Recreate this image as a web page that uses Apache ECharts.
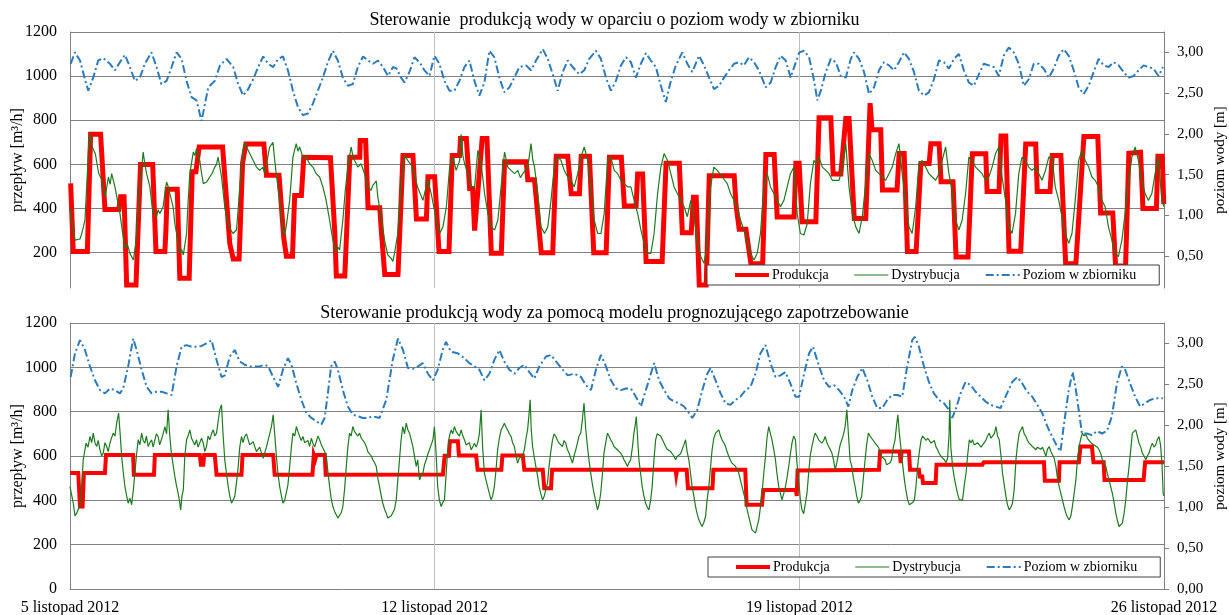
<!DOCTYPE html>
<html>
<head>
<meta charset="utf-8">
<script src="https://cdn.jsdelivr.net/npm/echarts@6/dist/echarts.min.js"></script>
<style>
html,body{margin:0;padding:0;background:#fff}
#chart{width:1229px;height:615px}
</style>
</head>
<body>
<div id="chart"></div>
<script>
// Time axis: hours since 5 Nov 2012 00:00, labelled once a week
const dateLabels = ['5 listopad 2012', '12 listopad 2012', '19 listopad 2012', '26 listopad 2012'];
const seriesNames = ['Produkcja', 'Dystrybucja', 'Poziom w zbiorniku'];
const panelTitles = [
  'Sterowanie  produkcją wody w oparciu o poziom wody w zbiorniku',
  'Sterowanie produkcją wody za pomocą modelu prognozującego zapotrzebowanie'
];

// Upper panel: production driven by the tank level  [hour, m3/h]
const topProd = [[0.3,514],[1.5,205],[8.0,205],[9.5,737],[14.1,737],[16.1,396],[22.5,396],[23.3,453],[24.9,453],[26.1,54],[30.4,54],[32.5,600],[38.1,600],[39.6,205],[43.7,205],[44.2,303],[44.8,488],[49.4,488],[50.6,84],[54.9,84],[56.3,567],[58.0,567],[59.5,679],[70.3,679],[73.6,242],[75.2,171],[77.9,171],[79.5,605],[81.0,692],[89.3,692],[90.5,551],[96.3,551],[98.5,264],[99.7,184],[102.5,184],[103.5,459],[106.6,459],[107.7,632],[120.0,630],[122.0,290],[122.7,94],[126.6,94],[128.9,632],[133.5,632],[133.7,708],[136.2,708],[137.3,404],[142.7,404],[143.4,303],[145.0,101],[151.1,101],[153.4,640],[158.0,640],[159.6,353],[164.2,353],[164.9,544],[168.0,544],[170.0,205],[174.6,205],[176.1,640],[179.5,640],[179.9,717],[182.6,717],[184.1,491],[185.5,491],[186.4,300],[189.9,717],[192.1,717],[194.1,197],[198.7,197],[200.2,612],[210.2,612],[210.9,530],[214.0,530],[217.1,200],[222.4,200],[224.0,637],[229.3,637],[230.9,467],[234.7,467],[235.5,637],[239.3,637],[241.3,200],[247.0,200],[248.5,632],[254.0,632],[255.4,411],[260.8,411],[261.5,556],[263.8,556],[265.4,160],[272.8,160],[274.6,605],[280.7,605],[282.1,290],[286.2,290],[287.2,451],[288.5,451],[289.9,54],[293.1,54],[294.5,549],[306.0,549],[306.8,419],[308.3,306],[311.4,306],[313.7,150],[319.1,150],[320.6,645],[324.4,645],[325.8,362],[333.6,362],[334.4,605],[335.9,605],[337.3,340],[343.6,340],[345.1,811],[350.5,811],[351.6,556],[355.1,556],[357.4,808],[358.9,808],[361.3,355],[366.6,355],[368.6,878],[369.5,757],[373.5,757],[374.3,484],[381.0,484],[382.0,650],[384.3,650],[385.8,205],[389.8,205],[392.0,604],[395.8,604],[396.6,694],[400.4,694],[401.3,521],[406.8,521],[408.2,180],[413.7,180],[415.7,648],[421.9,648],[422.5,477],[428.0,477],[428.9,729],[431.1,729],[432.6,207],[438.0,207],[440.3,692],[444.9,692],[445.6,477],[451.5,477],[452.5,640],[456.5,640],[458.7,150],[463.4,150],[467.1,726],[473.5,726],[474.8,380],[480.4,380],[481.7,140],[486.3,140],[487.8,650],[493.2,655],[494.3,400],[500.5,400],[501.2,637],[503.2,637],[503.9,420]];

const topDist = [[0,400],[0.3,378],[1.5,300],[2.3,257],[3.1,250],[4.6,262],[5.5,290],[6.9,348],[8.0,560],[8.7,710],[9.3,737],[10.2,680],[11.7,647],[13.2,560],[14.7,529],[16.2,453],[17.7,543],[18.5,510],[19.2,558],[20.7,498],[21.8,440],[23.0,378],[24.1,300],[25.3,221],[26.4,240],[27.6,197],[28.4,200],[29.2,167],[30.0,220],[30.7,287],[32.2,498],[33.7,656],[34.5,600],[35.3,558],[36.8,498],[37.6,430],[38.3,378],[39.9,363],[40.6,395],[41.4,378],[42.9,408],[43.7,470],[44.5,520],[45.2,500],[46.0,468],[47.5,408],[48.3,330],[49.1,287],[50.6,197],[51.4,215],[52.2,190],[53.0,240],[53.7,287],[54.4,430],[55.2,558],[56.8,656],[57.5,640],[58.3,671],[59.8,618],[60.6,560],[61.4,513],[62.9,520],[64.4,543],[65.5,560],[66.7,588],[67.5,600],[68.2,633],[69.0,590],[69.8,543],[71.3,408],[72.4,350],[73.6,310],[75.1,287],[76.7,303],[77.5,400],[78.2,498],[79.8,664],[80.5,700],[81.3,679],[82.8,649],[84.4,618],[85.9,588],[87.4,573],[88.9,588],[89.7,560],[90.5,558],[92.0,679],[93.5,700],[94.3,620],[95.0,558],[96.6,437],[98.1,303],[98.9,280],[99.6,318],[101.2,437],[102.7,633],[104.2,694],[105.0,660],[105.8,679],[107.3,633],[108.8,633],[110.4,603],[111.9,588],[113.4,558],[115.0,543],[116.5,498],[118.0,437],[119.6,347],[121.1,257],[122.6,205],[123.4,225],[124.2,212],[125.7,347],[126.8,480],[128.0,588],[129.5,679],[130.3,640],[131.1,618],[132.6,588],[134.1,603],[135.7,558],[137.2,498],[138.7,483],[139.5,505],[140.3,498],[141.1,525],[141.8,453],[143.3,363],[144.9,257],[146.4,190],[147.9,175],[148.7,160],[149.5,197],[151.0,287],[152.5,498],[154.1,641],[155.6,618],[157.9,588],[160.1,498],[162.6,437],[164.1,500],[164.9,530],[166.4,468],[168.8,347],[170.3,287],[171.8,317],[173.4,408],[174.9,588],[176.4,633],[177.9,573],[179.5,618],[180.2,737],[181.0,640],[181.8,603],[183.3,558],[184.8,498],[186.4,498],[187.9,664],[189.4,603],[191.0,468],[192.5,378],[194.0,317],[195.6,303],[197.1,347],[198.6,498],[200.2,656],[201.7,588],[203.2,573],[204.8,558],[206.3,573],[207.5,540],[208.6,558],[210.9,588],[212.4,694],[213.2,620],[214.0,588],[215.5,468],[217.0,317],[218.6,287],[220.1,317],[221.6,437],[223.1,588],[224.7,633],[226.2,618],[227.7,573],[229.3,543],[230.8,528],[232.3,498],[233.9,558],[235.4,633],[236.9,679],[238.5,618],[240.0,498],[241.5,347],[243.1,287],[244.6,287],[246.1,378],[247.7,618],[249.2,633],[250.7,573],[252.3,558],[253.8,528],[255.3,513],[256.9,498],[258.4,498],[259.9,437],[261.5,378],[263.0,303],[264.5,242],[266.1,197],[267.6,197],[269.1,287],[270.7,468],[272.2,588],[273.7,649],[275.3,618],[276.8,558],[278.3,498],[279.8,468],[281.4,437],[282.9,408],[284.4,363],[286.0,437],[287.5,363],[289.0,257],[290.6,182],[292.1,152],[293.5,230],[294.4,400],[295.1,498],[296.6,588],[298.2,573],[300.5,543],[302.8,513],[304.3,468],[305.9,437],[307.4,408],[308.9,347],[310.5,303],[312.0,257],[313.5,197],[315.1,167],[316.6,197],[318.1,287],[319.7,498],[321.2,558],[322.7,498],[324.3,468],[325.8,437],[327.3,408],[328.9,437],[330.4,498],[331.9,558],[333.5,588],[335.0,378],[336.5,287],[338.1,280],[339.6,330],[341.1,513],[342.7,618],[344.0,600],[345.1,633],[346.6,588],[348.2,573],[349.7,558],[351.2,528],[352.8,528],[354.3,528],[355.8,588],[357.4,694],[358.9,498],[360.4,378],[362.0,317],[363.5,287],[365.0,363],[366.6,513],[368.1,649],[369.6,618],[371.2,573],[372.7,558],[374.2,543],[375.8,528],[377.3,558],[378.8,588],[380.4,649],[381.9,694],[383.4,558],[385.0,437],[386.5,317],[388.0,287],[389.6,408],[391.1,603],[392.6,618],[394.2,588],[395.7,558],[397.2,543],[398.8,528],[400.3,558],[401.8,618],[403.4,679],[404.9,558],[406.4,483],[408.0,347],[409.5,303],[411.0,347],[412.6,468],[414.1,633],[415.6,618],[417.2,588],[418.7,573],[420.2,558],[421.8,528],[423.3,543],[424.8,588],[426.4,649],[427.9,679],[429.4,543],[431.0,437],[432.5,317],[434.0,287],[435.6,378],[437.1,558],[438.6,633],[440.2,618],[441.7,588],[443.2,573],[444.7,588],[446.3,558],[447.8,528],[449.4,573],[450.9,633],[452.4,633],[453.9,498],[455.5,437],[457.0,363],[458.5,287],[460.1,242],[461.6,287],[463.1,437],[464.7,618],[466.2,664],[467.7,618],[469.3,588],[470.8,543],[472.3,528],[473.8,498],[475.4,437],[476.9,408],[478.4,317],[480.0,257],[481.5,197],[483.0,182],[484.6,257],[486.1,378],[487.6,513],[489.2,633],[490.7,679],[492.2,618],[493.8,528],[495.3,468],[496.8,437],[498.4,468],[499.9,558],[501.4,633],[503.0,437],[504.0,408]];

// tank level [hour, m]
const topLevel = [[0.3,2.86],[2.3,3.00],[4.6,2.90],[6.9,2.67],[8.4,2.53],[10.7,2.69],[13.0,2.90],[15.3,2.93],[18.4,2.86],[20.7,2.78],[23.0,2.88],[25.3,2.97],[27.6,2.82],[29.9,2.65],[32.2,2.69],[34.5,2.86],[37.5,3.00],[39.9,2.82],[42.1,2.61],[44.5,2.65],[46.8,2.82],[49.1,3.00],[51.4,2.92],[53.7,2.65],[56.0,2.45],[58.3,2.41],[60.6,2.16],[63.7,2.57],[66.7,2.65],[69.1,2.84],[72.1,2.92],[75.2,2.82],[77.5,2.61],[79.8,2.47],[82.1,2.55],[84.4,2.67],[86.7,2.82],[89.0,2.95],[91.3,2.86],[93.6,2.82],[95.9,2.92],[98.1,2.95],[100.4,2.78],[102.7,2.53],[105.0,2.33],[107.3,2.23],[109.6,2.25],[111.9,2.37],[114.2,2.53],[116.5,2.69],[118.8,2.88],[121.1,3.02],[123.4,2.90],[125.7,2.69],[128.0,2.59],[130.3,2.61],[132.6,2.82],[135.0,2.95],[137.3,2.90],[139.6,2.86],[141.9,2.90],[144.2,2.82],[146.5,2.71],[148.8,2.82],[150.5,2.80],[152.5,2.69],[154.1,2.63],[156.4,2.76],[158.7,2.94],[161.0,2.88],[163.3,2.78],[165.6,2.71],[167.9,2.96],[170.2,2.86],[172.5,2.65],[174.8,2.53],[177.1,2.53],[179.4,2.65],[181.7,2.82],[184.0,2.90],[186.3,2.65],[188.6,2.47],[190.9,2.63],[193.2,3.02],[195.5,2.94],[197.8,2.69],[200.1,2.51],[202.4,2.57],[204.7,2.69],[207.0,2.82],[210.1,2.84],[212.4,2.78],[214.7,2.90],[217.8,3.04],[220.1,2.92],[222.4,2.73],[224.7,2.53],[227.0,2.76],[229.3,2.90],[231.6,2.82],[234.6,2.73],[236.9,2.78],[239.2,2.92],[242.3,3.02],[244.6,2.92],[246.9,2.69],[249.2,2.53],[251.5,2.65],[253.8,2.84],[256.1,2.94],[258.4,2.88],[260.7,2.69],[263.0,2.86],[265.3,2.99],[267.6,2.90],[269.9,2.82],[272.2,2.59],[274.5,2.39],[276.8,2.65],[279.1,2.84],[282.1,3.00],[284.4,2.86],[286.7,2.76],[289.8,2.96],[292.1,2.84],[294.4,2.69],[296.7,2.55],[299.0,2.59],[301.3,2.69],[303.6,2.78],[305.9,2.86],[308.2,2.88],[310.5,2.84],[312.8,2.94],[315.1,2.88],[317.4,2.78],[320.5,2.57],[322.8,2.63],[325.1,2.82],[327.4,2.96],[329.7,2.90],[332.0,2.69],[334.0,2.85],[336.0,3.00],[338.2,3.02],[340.5,2.94],[342.8,2.65],[344.3,2.41],[345.9,2.53],[348.2,2.76],[350.5,2.92],[352.8,2.88],[355.1,2.71],[357.4,2.69],[359.7,2.92],[361.2,3.00],[363.5,2.92],[365.8,2.76],[368.1,2.49],[370.4,2.57],[372.7,2.78],[375.0,2.88],[377.3,2.84],[379.6,2.78],[381.9,2.88],[384.2,3.00],[386.5,2.92],[388.8,2.76],[391.1,2.53],[393.4,2.47],[395.7,2.51],[398.0,2.67],[400.3,2.90],[402.6,2.88],[404.9,2.80],[407.2,2.92],[409.5,2.98],[411.8,2.78],[414.1,2.63],[416.4,2.59],[418.7,2.73],[421.0,2.86],[423.3,2.84],[425.6,2.82],[427.9,2.71],[430.2,2.96],[432.5,3.06],[434.8,3.00],[437.1,2.86],[439.4,2.59],[441.7,2.67],[444.0,2.86],[446.3,2.86],[448.6,2.80],[450.9,2.69],[453.2,2.80],[455.5,2.96],[457.8,3.04],[460.1,2.96],[462.4,2.78],[464.7,2.57],[467.0,2.49],[469.3,2.59],[471.6,2.76],[473.9,2.92],[476.2,2.84],[478.5,2.82],[480.8,2.88],[483.1,2.84],[485.4,2.76],[487.7,2.69],[490.0,2.71],[492.3,2.78],[494.6,2.84],[496.9,2.82],[499.2,2.80],[501.5,2.71],[503.5,2.82]];

// Lower panel: production from the demand forecast model  [hour, m3/h]
const botProd = [[0,523],[3.8,523],[4.6,372],[5.8,372],[6.4,523],[16.1,523],[16.6,605],[29.1,605],[29.4,515],[38.7,515],[39.1,605],[59.8,605],[60.3,560],[61.4,560],[61.8,605],[66.7,605],[67.5,515],[79.0,515],[79.5,605],[93.6,605],[94.3,515],[111.7,515],[112.3,605],[113.0,585],[113.6,605],[117.4,605],[117.8,515],[171.8,517],[172.6,601],[174.6,601],[175.0,666],[178.7,666],[179.2,602],[187.1,602],[187.8,538],[198.7,538],[199.2,602],[208.6,602],[209.3,538],[217.8,538],[218.5,455],[221.6,455],[222.1,538],[279.0,538],[279.3,515],[279.7,538],[284.1,538],[284.7,455],[296.0,455],[296.4,538],[311.1,538],[311.7,380],[318.8,380],[319.4,447],[334.4,447],[334.8,420],[335.2,535],[372.7,538],[373.2,620],[382.3,620],[382.7,568],[383.1,620],[386.5,620],[387.0,538],[391.1,538],[391.5,508],[392.6,508],[393.0,478],[398.8,478],[399.2,560],[420.3,560],[421.0,572],[448.7,572],[449.1,488],[455.6,488],[455.9,572],[464.8,572],[465.5,643],[470.8,643],[471.5,572],[476.2,572],[476.6,492],[494.6,492],[495.3,572],[504,572]];

const botDist = [[0,462],[1.5,387],[2.3,330],[3.1,342],[3.8,360],[4.6,372],[5.4,470],[6.1,583],[7.4,658],[8.3,640],[9.2,688],[10.0,660],[10.7,703],[11.5,660],[12.3,643],[13.0,670],[13.8,628],[14.6,600],[15.3,613],[16.1,660],[16.9,643],[17.6,620],[18.4,658],[19.1,680],[19.9,703],[20.7,690],[21.5,748],[22.4,794],[23.1,700],[23.8,598],[24.5,530],[25.3,462],[26.1,420],[26.8,387],[27.6,410],[28.4,380],[29.1,440],[29.9,523],[30.6,600],[31.4,673],[32.2,650],[33.0,703],[33.7,670],[34.5,658],[35.2,690],[36.0,643],[36.8,660],[37.6,673],[38.3,640],[39.1,643],[39.8,700],[40.6,688],[41.3,650],[42.1,673],[42.9,700],[43.7,733],[44.5,700],[45.2,809],[45.9,700],[46.7,613],[47.5,560],[48.3,508],[49.0,470],[49.8,432],[50.4,400],[51.0,357],[51.6,420],[52.2,447],[52.9,600],[53.7,673],[54.4,690],[55.2,718],[56.0,680],[56.8,688],[57.5,650],[58.3,673],[59.0,640],[59.8,643],[60.6,680],[61.4,658],[62.1,620],[62.9,643],[63.6,690],[64.4,673],[65.2,700],[66.0,718],[66.7,690],[67.5,703],[68.3,760],[69.0,809],[69.8,831],[70.5,700],[71.3,583],[72.1,520],[72.9,462],[73.6,420],[74.4,387],[75.1,400],[75.9,417],[76.7,480],[77.5,553],[78.2,640],[79.0,688],[79.7,660],[80.5,688],[81.3,700],[82.1,673],[82.8,650],[83.6,643],[84.4,665],[85.1,643],[85.9,620],[86.7,628],[87.4,640],[88.2,613],[89.0,590],[89.7,598],[90.5,640],[91.3,673],[92.0,700],[92.8,733],[93.6,786],[94.3,700],[95.1,598],[95.8,520],[96.6,462],[97.4,420],[98.1,387],[98.9,400],[99.7,402],[100.4,470],[101.2,553],[102.0,640],[102.7,703],[103.5,690],[104.3,733],[105.0,710],[105.8,703],[106.5,670],[107.3,688],[108.1,660],[108.9,658],[109.6,670],[110.4,643],[111.2,680],[111.9,658],[112.7,640],[113.5,643],[114.2,690],[115.0,673],[115.8,650],[116.5,643],[117.3,620],[118.1,598],[118.8,530],[119.6,462],[120.3,410],[121.1,372],[121.9,350],[122.7,342],[123.4,320],[124.2,327],[125.0,345],[125.7,372],[126.5,450],[127.3,553],[128.0,640],[128.8,703],[129.5,690],[130.3,733],[131.1,710],[131.9,718],[132.6,690],[133.4,703],[134.2,680],[134.9,673],[135.7,660],[136.5,643],[137.2,620],[138.0,613],[138.8,600],[139.5,583],[140.3,570],[141.1,553],[141.8,500],[142.6,462],[143.4,420],[144.1,387],[144.9,360],[145.7,342],[146.4,320],[147.2,312],[148.0,330],[148.7,327],[149.5,360],[150.3,402],[151.0,490],[151.8,583],[152.5,670],[153.3,733],[154.1,700],[154.9,748],[155.6,720],[156.4,703],[157.2,673],[158.0,640],[158.7,643],[159.5,553],[160.2,583],[161.0,492],[161.8,510],[162.6,523],[163.3,560],[164.1,583],[164.9,610],[165.6,628],[166.4,650],[167.2,673],[167.9,733],[168.6,620],[169.4,462],[170.2,400],[171.0,372],[171.7,390],[172.5,402],[173.3,520],[174.0,628],[174.8,690],[175.6,718],[176.3,700],[177.1,733],[177.9,710],[178.6,703],[179.4,690],[180.2,718],[181.0,690],[181.7,673],[182.5,650],[183.2,643],[184.0,660],[184.8,628],[185.5,640],[186.3,658],[187.1,640],[187.8,658],[188.6,700],[189.4,809],[190.1,640],[190.9,523],[191.7,490],[192.4,462],[193.2,430],[194.0,402],[194.7,420],[195.5,462],[196.3,540],[197.0,628],[197.8,680],[198.6,718],[199.3,730],[200.1,748],[200.9,730],[201.6,718],[202.4,700],[203.2,688],[203.9,660],[204.7,643],[205.5,600],[206.2,568],[207.0,590],[207.8,583],[208.5,600],[209.3,628],[210.1,680],[210.8,718],[211.4,780],[212.0,854],[212.5,720],[213.1,643],[213.8,600],[214.6,553],[215.4,510],[216.1,462],[216.9,430],[217.7,402],[218.5,420],[219.2,417],[220.0,480],[220.7,553],[221.5,620],[222.3,673],[223.0,700],[223.8,688],[224.6,670],[225.3,658],[226.1,650],[226.9,643],[227.6,670],[228.4,658],[229.1,630],[229.9,613],[230.7,590],[231.5,568],[232.2,600],[233.0,628],[233.8,660],[234.5,690],[235.3,703],[236.0,760],[236.8,839],[237.6,720],[238.4,643],[239.1,580],[239.9,523],[240.7,470],[241.4,432],[242.2,395],[243.0,357],[243.7,380],[244.5,432],[245.3,520],[246.0,613],[246.8,660],[247.6,703],[248.3,690],[249.1,673],[249.9,660],[250.6,643],[251.4,640],[252.2,628],[252.9,620],[253.7,613],[254.5,600],[255.2,583],[256.0,570],[256.8,553],[257.5,570],[258.3,583],[259.1,640],[259.8,703],[260.4,740],[260.9,778],[261.5,680],[262.1,583],[262.9,520],[263.6,462],[264.4,420],[265.2,387],[265.9,370],[266.7,357],[267.5,400],[268.2,462],[269.0,580],[269.8,673],[270.5,700],[271.3,703],[272.1,690],[272.8,688],[273.6,660],[274.4,643],[275.1,630],[275.9,628],[276.7,620],[277.4,613],[278.2,600],[279.0,583],[279.7,598],[280.5,598],[281.3,610],[282.0,628],[282.8,650],[283.6,673],[284.3,620],[285.1,583],[285.9,520],[286.6,462],[287.4,420],[288.2,372],[288.9,340],[289.7,312],[290.5,295],[291.2,282],[292.0,300],[292.8,327],[293.5,400],[294.3,462],[295.1,550],[295.8,628],[296.6,680],[297.4,703],[298.1,710],[298.9,718],[299.7,690],[300.4,673],[301.2,660],[302.0,643],[302.7,620],[303.5,598],[304.3,580],[305.0,568],[305.8,560],[306.6,553],[307.3,540],[308.1,523],[308.9,490],[309.6,462],[310.4,430],[311.2,402],[311.9,360],[312.7,327],[313.5,295],[314.2,267],[315.0,258],[315.8,252],[316.5,280],[317.3,312],[318.1,370],[318.8,432],[319.6,520],[320.4,598],[321.1,680],[321.9,733],[322.7,700],[323.4,673],[324.2,630],[325.0,583],[325.7,520],[326.5,462],[327.3,430],[328.0,402],[328.8,430],[329.6,462],[330.3,500],[331.1,553],[331.9,610],[332.6,658],[333.4,690],[334.2,673],[334.9,570],[335.7,492],[336.5,400],[337.2,357],[338.0,340],[338.8,387],[339.5,430],[340.3,523],[341.0,600],[341.8,643],[342.6,680],[343.3,703],[344.1,690],[344.9,673],[345.6,680],[346.4,658],[347.2,670],[347.9,688],[348.7,660],[349.5,643],[350.2,630],[351.0,613],[351.8,580],[352.5,538],[353.3,570],[354.1,613],[354.8,650],[355.6,673],[356.4,700],[357.1,733],[357.9,809],[358.6,700],[359.4,580],[360.2,553],[360.9,500],[361.7,462],[362.4,420],[363.2,387],[364.0,400],[364.7,417],[365.5,500],[366.3,583],[367.0,650],[367.8,703],[368.6,690],[369.3,688],[370.1,670],[370.9,658],[371.6,650],[372.4,640],[373.2,620],[373.9,598],[374.7,590],[375.5,583],[376.2,560],[377.0,553],[377.8,570],[378.5,583],[379.3,640],[380.1,673],[380.8,740],[381.4,786],[382.1,700],[382.9,628],[383.6,560],[384.4,492],[385.2,440],[385.9,402],[386.7,380],[387.5,372],[388.2,390],[389.0,402],[389.8,470],[390.5,553],[391.3,620],[392.1,673],[392.8,690],[393.6,688],[394.4,670],[395.1,680],[395.9,670],[396.7,658],[397.4,650],[398.2,670],[399.0,640],[399.7,628],[400.5,610],[401.3,598],[402.0,590],[402.8,583],[403.6,570],[404.3,590],[405.0,700],[405.3,854],[405.8,640],[406.6,553],[407.4,500],[408.2,462],[408.9,430],[409.7,402],[410.5,395],[411.2,402],[412.0,470],[412.8,523],[413.5,600],[414.3,673],[415.1,660],[415.8,673],[416.6,650],[417.4,643],[418.1,660],[418.9,658],[419.7,640],[420.4,643],[421.2,660],[422.0,673],[422.7,690],[423.5,703],[424.3,680],[425.0,673],[425.8,700],[426.6,733],[427.3,690],[428.1,673],[428.9,600],[429.6,523],[430.4,470],[431.2,417],[431.9,380],[432.7,357],[433.5,370],[434.2,387],[435.0,450],[435.8,583],[436.5,650],[437.3,703],[438.1,718],[438.8,733],[439.6,700],[440.4,688],[441.1,670],[441.9,658],[442.7,650],[443.4,643],[444.2,640],[445.0,628],[445.7,640],[446.5,643],[447.3,630],[448.0,640],[448.8,620],[449.6,598],[450.3,630],[451.1,643],[451.9,620],[452.6,613],[453.4,590],[454.2,553],[454.9,500],[455.7,462],[456.5,430],[457.2,402],[458.0,370],[458.8,342],[459.5,325],[460.3,312],[461.1,330],[461.8,372],[462.6,430],[463.4,492],[464.1,580],[464.9,643],[465.7,680],[466.4,703],[467.2,690],[468.0,700],[468.7,680],[469.5,673],[470.3,660],[471.0,658],[471.8,650],[472.6,643],[473.3,640],[474.1,628],[474.9,610],[475.6,583],[476.4,570],[477.2,553],[477.9,520],[478.7,492],[479.5,460],[480.2,432],[481.0,390],[481.8,342],[482.5,310],[483.3,282],[484.1,290],[484.8,297],[485.6,340],[486.4,402],[487.1,480],[487.9,553],[488.7,630],[489.4,703],[490.2,710],[491.0,718],[491.7,690],[492.5,658],[493.3,640],[494.0,613],[494.8,600],[495.6,583],[496.3,600],[497.1,613],[497.9,640],[498.6,658],[499.4,640],[500.2,650],[500.9,673],[501.7,688],[502.4,650],[503.1,560],[503.6,432],[504.0,420]];

const botLevel = [[0.3,2.59],[2.3,2.88],[4.6,3.04],[6.9,2.92],[9.2,2.72],[11.5,2.55],[13.8,2.43],[16.1,2.39],[18.4,2.45],[20.7,2.43],[23.0,2.39],[24.5,2.45],[26.8,2.72],[29.1,3.06],[30.7,2.92],[33.0,2.68],[35.3,2.47],[37.6,2.39],[39.9,2.41],[42.2,2.41],[44.5,2.39],[46.8,2.37],[49.1,2.72],[51.4,2.96],[53.7,2.98],[56.0,2.96],[58.3,2.96],[60.6,2.97],[62.9,3.00],[65.2,3.04],[67.5,2.80],[69.8,2.59],[71.3,2.61],[73.6,2.84],[75.9,2.92],[78.2,2.78],[80.5,2.74],[82.8,2.72],[85.1,2.72],[87.4,2.72],[89.7,2.74],[91.3,2.72],[93.6,2.59],[95.9,2.47],[98.1,2.68],[100.4,2.82],[102.0,2.74],[104.3,2.51],[106.6,2.31],[108.9,2.15],[111.2,2.09],[113.5,2.05],[115.8,2.01],[117.3,2.09],[118.8,2.39],[120.3,2.72],[121.9,2.78],[123.4,2.68],[125.7,2.43],[128.0,2.23],[130.3,2.13],[132.6,2.11],[134.9,2.09],[137.2,2.09],[139.5,2.11],[142.6,2.09],[145.7,2.31],[148.7,2.80],[151.1,3.06],[153.4,2.92],[155.7,2.70],[158.0,2.69],[160.3,2.72],[162.6,2.76],[164.9,2.63],[167.2,2.55],[169.4,2.68],[171.7,2.92],[173.2,3.02],[175.5,2.90],[178.6,2.88],[181.7,2.82],[184.0,2.76],[186.3,2.72],[188.6,2.68],[190.9,2.55],[193.2,2.63],[195.5,2.80],[197.8,2.92],[200.1,2.78],[202.4,2.68],[204.7,2.63],[207.0,2.70],[209.3,2.74],[211.6,2.65],[213.9,2.57],[216.2,2.72],[219.3,2.84],[221.6,2.86],[223.9,2.78],[227.0,2.68],[229.3,2.61],[232.3,2.63],[235.4,2.59],[237.7,2.49],[240.0,2.43],[242.3,2.68],[244.6,2.86],[246.9,2.72],[249.2,2.55],[251.5,2.45],[253.8,2.43],[256.1,2.45],[258.4,2.45],[260.7,2.35],[263.0,2.23],[265.3,2.43],[267.6,2.63],[269.1,2.76],[271.4,2.55],[273.7,2.43],[276.0,2.33],[278.3,2.29],[280.6,2.27],[282.9,2.23],[285.2,2.15],[286.7,2.09],[289.0,2.19],[291.3,2.43],[293.6,2.63],[295.1,2.70],[297.4,2.55],[299.7,2.39],[302.0,2.27],[304.3,2.25],[306.6,2.31],[308.9,2.35],[311.2,2.43],[313.5,2.47],[315.8,2.63],[318.1,2.88],[320.4,2.98],[322.7,2.76],[325.0,2.59],[327.3,2.61],[329.6,2.65],[331.9,2.51],[334.2,2.35],[335.9,2.35],[338.2,2.63],[340.5,2.88],[342.3,2.96],[345.1,2.72],[347.4,2.55],[349.7,2.47],[352.0,2.49],[354.3,2.43],[356.6,2.35],[358.6,2.23],[360.4,2.43],[362.7,2.59],[365.0,2.70],[367.3,2.55],[369.6,2.35],[371.9,2.21],[374.2,2.21],[376.5,2.31],[378.8,2.37],[381.1,2.37],[383.4,2.35],[385.7,2.72],[388.0,3.04],[389.2,3.08],[391.1,2.96],[393.4,2.72],[395.7,2.53],[398.0,2.39],[400.3,2.31],[402.6,2.27],[404.9,2.19],[406.4,2.09],[408.0,2.19],[410.3,2.39],[412.6,2.53],[414.9,2.49],[417.2,2.41],[419.5,2.35],[421.8,2.29],[424.1,2.25],[426.4,2.23],[428.7,2.21],[431.0,2.35],[434.1,2.53],[436.4,2.59],[438.7,2.51],[441.0,2.41],[443.3,2.35],[445.6,2.25],[447.9,2.15],[450.2,1.99],[452.5,1.86],[454.8,1.74],[456.3,1.68],[457.8,1.99],[460.1,2.43],[461.9,2.65],[463.2,2.47],[464.7,2.19],[466.2,1.90],[468.5,1.90],[470.8,1.88],[473.1,1.93],[475.4,1.90],[477.7,1.93],[480.0,2.11],[482.3,2.51],[484.6,2.72],[486.1,2.68],[488.4,2.51],[490.7,2.35],[493.0,2.23],[495.3,2.27],[497.6,2.31],[499.9,2.33],[503.5,2.33]];

// ---- presentation ----
const FONT = 'Liberation Serif';
const HOURS = 504, WEEK = 168;
const FLOW_MAX = 1200, LEVEL_MAX = 3.25;       // both scales share the same pixel height
const TOP_FLOW_MIN = 40;                         // upper panel is cut just above its zero line
const TOP_LEVEL_MIN = TOP_FLOW_MIN * LEVEL_MAX / FLOW_MAX;
const GRID_COLOR = '#808080', VGRID_COLOR = '#c0c0c0';
const C_PROD = '#ff0000', C_DIST = '#1e7a1e', C_LEVEL = '#2b7bbb';
const LEVEL_DASH = [8, 3, 2, 3];
const levelTicks = [0, 0.5, 1, 1.5, 2, 2.5, 3];

const chart = echarts.init(document.getElementById('chart'), null, {renderer: 'canvas'});

function xAxisFor(grid, withLabels) {
  return {
    type: 'value', gridIndex: grid, min: 0, max: HOURS, interval: WEEK,
    axisLine: {show: withLabels, lineStyle: {color: GRID_COLOR, width: 1}},
    axisTick: {show: false},
    axisLabel: {
      show: withLabels, margin: 11, color: '#000', fontFamily: FONT, fontSize: 16,
      formatter: v => dateLabels[Math.round(v / WEEK)] || ''
    },
    splitLine: {show: true, showMinLine: false, showMaxLine: false, lineStyle: {color: VGRID_COLOR, width: 1}}
  };
}

function flowAxis(grid, min) {
  return {
    type: 'value', gridIndex: grid, position: 'left', min: min, max: FLOW_MAX,
    minInterval: 200, maxInterval: 200, splitNumber: 6,
    name: 'przepływ [m³/h]', nameLocation: 'middle', nameGap: 44, nameMoveOverlap: false,
    nameTextStyle: {fontFamily: FONT, fontSize: 16, color: '#000'},
    axisLine: {show: true, lineStyle: {color: GRID_COLOR, width: 1}},
    axisTick: {show: false},
    axisLabel: {
      margin: 13, color: '#000', fontFamily: FONT, fontSize: 16,
      formatter: v => (v % 200 === 0 && v > 0) || (v === 0 && min === 0) ? String(v) : ''
    },
    splitLine: {show: true, showMinLine: false, lineStyle: {color: GRID_COLOR, width: 1}}
  };
}

function levelAxis(grid, min) {
  return {
    type: 'value', gridIndex: grid, position: 'right', min: min, max: LEVEL_MAX,
    minInterval: 0.5, maxInterval: 0.5, splitNumber: 6,
    name: 'poziom wody [m]', nameLocation: 'middle', nameGap: 49, nameMoveOverlap: false,
    nameTextStyle: {fontFamily: FONT, fontSize: 15, color: '#000'},
    axisLine: {show: true, lineStyle: {color: GRID_COLOR, width: 1}},
    axisTick: {show: true, inside: false, length: 5, lineStyle: {color: GRID_COLOR},
               customValues: levelTicks.filter(t => t >= min)},
    axisLabel: {
      margin: 13, color: '#000', fontFamily: FONT, fontSize: 15,
      customValues: levelTicks.filter(t => t >= min),
      formatter: v => Math.abs(v * 2 - Math.round(v * 2)) < 1e-6 ? v.toFixed(2).replace('.', ',') : ''
    },
    splitLine: {show: false}
  };
}

function panelSeries(xi, yFlow, yLevel, prod, dist, level, prodWidth) {
  return [
    {name: seriesNames[0], type: 'line', xAxisIndex: xi, yAxisIndex: yFlow, data: prod,
     symbol: 'none', showSymbol: false, silent: true,
     lineStyle: {color: C_PROD, width: prodWidth, join: 'miter'}, itemStyle: {color: C_PROD}, z: 2},
    {name: seriesNames[1], type: 'line', xAxisIndex: xi, yAxisIndex: yFlow, data: dist,
     symbol: 'none', showSymbol: false, silent: true,
     lineStyle: {color: C_DIST, width: 1.2}, itemStyle: {color: C_DIST}, z: 3},
    {name: seriesNames[2], type: 'line', xAxisIndex: xi, yAxisIndex: yLevel, data: level,
     symbol: 'none', showSymbol: false, silent: true,
     lineStyle: {color: C_LEVEL, width: 2, type: LEVEL_DASH}, itemStyle: {color: C_LEVEL}, z: 3}
  ];
}

const legendLineWidths = [4, 1, 2];

function legendAt(left, top) {
  return {
    left: left, top: top, orient: 'horizontal', selectedMode: false,
    data: seriesNames.map((n, i) => ({name: n, lineStyle: {width: legendLineWidths[i]}})),
    itemWidth: 34, itemHeight: 12, itemGap: 25,
    padding: [3, 23, 3, 26],
    itemStyle: {opacity: 0},
    backgroundColor: '#fff', borderColor: '#404040', borderWidth: 1, borderRadius: 0,
    textStyle: {fontFamily: FONT, fontSize: 14, color: '#000', padding: [0, 0, 0, -2]}
  };
}

const option = {
  animation: false,
  backgroundColor: '#fff',
  title: panelTitles.map((t, i) => ({
    text: t, left: 'center', top: i === 0 ? 11 : 304, padding: 0,
    textStyle: {fontFamily: FONT, fontSize: 18, fontWeight: 'normal', color: '#000'}
  })),
  grid: [
    {left: 70, right: 65, top: 32, height: 256, outerBoundsMode: 'none', containLabel: false},
    {left: 70, right: 65, top: 323, height: 266, outerBoundsMode: 'none', containLabel: false}
  ],
  xAxis: [xAxisFor(0, false), xAxisFor(1, true)],
  yAxis: [
    flowAxis(0, TOP_FLOW_MIN), levelAxis(0, TOP_LEVEL_MIN),
    flowAxis(1, 0), levelAxis(1, 0)
  ],
  legend: [legendAt(707, 265), legendAt(708, 557)],
  series: [
    ...panelSeries(0, 0, 1, topProd, topDist, topLevel, 5),
    ...panelSeries(1, 2, 3, botProd, botDist, botLevel, 4)
  ]
};
chart.setOption(option);
</script>
</body>
</html>
